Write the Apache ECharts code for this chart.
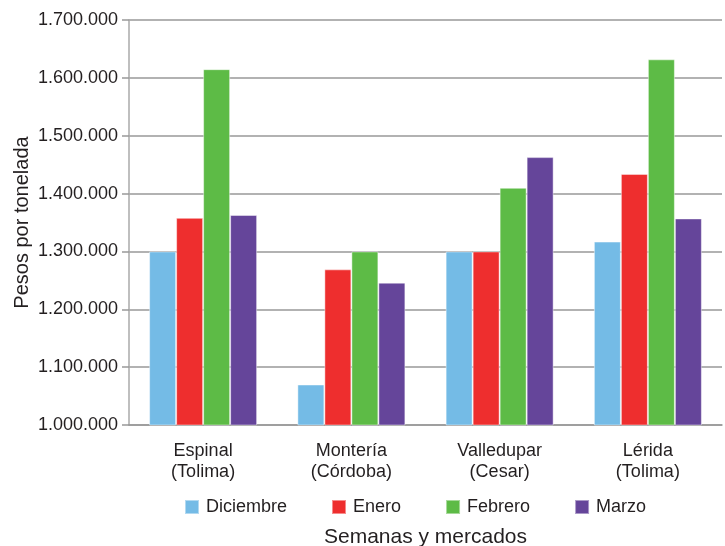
<!DOCTYPE html>
<html>
<head>
<meta charset="utf-8">
<script src="https://cdn.jsdelivr.net/npm/echarts@6/dist/echarts.min.js"></script>
<style>
  html, body { margin: 0; padding: 0; background: #fff; }
  #chart { width: 725px; height: 546px; }
</style>
</head>
<body>
<div id="chart"></div>
<script>
// categorías (mercados) y meses
const markets = ['Espinal\n(Tolima)', 'Montería\n(Córdoba)', 'Valledupar\n(Cesar)', 'Lérida\n(Tolima)']
const months = ['Diciembre', 'Enero', 'Febrero', 'Marzo']

// precios en pesos por tonelada
const diciembre = [1300000, 1070000, 1300000, 1317000]
const enero = [1358000, 1269000, 1300000, 1434000]
const febrero = [1615000, 1300000, 1410000, 1632000]
const marzo = [1363000, 1246000, 1463000, 1357000]

const colors = ['#74BBE6', '#EE2E2E', '#5DBB46', '#65459A']
const values = [diciembre, enero, febrero, marzo]

const font = 'Liberation Sans, Arial, sans-serif'
const textColor = '#231F20'

// formato con punto como separador de miles
const fmt = v => String(v).replace(/\B(?=(\d{3})+(?!\d))/g, '.')

const chart = echarts.init(document.getElementById('chart'))
chart.setOption({
  animation: false,
  textStyle: { fontFamily: font },
  grid: { left: 129, right: 3, top: 20, bottom: 121, outerBoundsMode: 'none', containLabel: false },
  legend: {
    data: months,
    left: 179,
    top: 493,
    itemWidth: 14,
    itemHeight: 14,
    itemGap: 44,
    icon: 'rect',
    textStyle: { fontSize: 18, color: textColor, fontFamily: font, padding: [0, 0, 0, 2] }
  },
  xAxis: {
    type: 'category',
    data: markets,
    name: 'Semanas y mercados',
    nameLocation: 'middle',
    nameGap: 102,
    nameMoveOverlap: false,
    nameTextStyle: { fontSize: 21, color: textColor },
    axisLine: { lineStyle: { color: '#999', width: 1.5 } },
    axisTick: { show: false },
    axisLabel: { fontSize: 18, color: textColor, lineHeight: 21, margin: 16 }
  },
  yAxis: {
    type: 'value',
    min: 1000000,
    max: 1700000,
    interval: 100000,
    name: 'Pesos por tonelada',
    nameLocation: 'middle',
    nameGap: 97,
    nameMoveOverlap: false,
    nameTextStyle: { fontSize: 20, color: textColor },
    axisLine: { show: true, lineStyle: { color: '#aaa', width: 1.5 } },
    axisTick: { show: true, length: 7, lineStyle: { color: '#999', width: 1.5 } },
    axisLabel: { fontSize: 18, color: textColor, margin: 11, formatter: fmt },
    splitLine: { lineStyle: { color: '#999', width: 1.5 } }
  },
  series: months.map((m, i) => ({
    name: m,
    type: 'bar',
    data: values[i],
    barWidth: 27,
    barGap: '0%',
    itemStyle: { color: colors[i], borderColor: 'rgba(255,255,255,0.45)', borderWidth: 1 }
  }))
})
</script>
</body>
</html>
